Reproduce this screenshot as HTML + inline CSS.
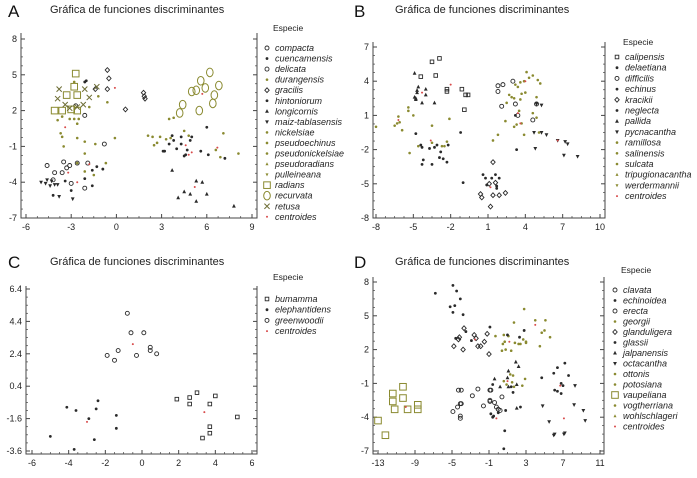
<!DOCTYPE html>
<html><head><meta charset="utf-8"><style>
html,body{margin:0;padding:0;background:#fff;}
svg{display:block;font-family:"Liberation Sans",Arial,sans-serif;}
</style></head><body>
<svg id="chart" width="697" height="478" viewBox="0 0 697 478" xmlns="http://www.w3.org/2000/svg"></svg>
<script>
// ---------- Panel A data ----------
const A_radians=[[-2.7,5.1],[-2.8,4],[-3.3,3.3],[-2.6,3.3],[-4.1,2],[-3.6,2],[-2.6,2],[-3,2.1]];
const A_retusa=[[-3.8,3.8],[-3.9,3],[-3.4,2.5],[-2.1,3.8],[-1.3,4],[-2.2,2.5],[-2.6,2.3],[-1.8,3.1],[-3.1,2.2]];
const A_recurvata=[[4.4,2.5],[4.2,1.8],[5,3.6],[5.3,3.7],[5.6,4.5],[6.2,5.2],[5.9,3.9],[6.8,4.1],[6.5,3.3],[6.4,2.6],[5.5,2]];
const A_gracilis=[[-0.6,5.4],[-0.5,4.7],[0.6,2.1],[1.8,3.5],[1.85,3.2],[1.9,3],[-0.6,3.8],[-1.4,3.8]];
const A_compacta=[[-4.6,-2.6],[-3.6,-3.2],[-4.2,-3.8],[-3,-4.1],[-3.3,-2.8],[-3.5,-2.3],[-2.6,-2.4],[-1.9,-2.4],[-2.1,-4.5],[-0.8,-0.8],[-2.1,1.6],[-2.7,2.4],[-4.1,-3.2],[-3.1,-2.6]];
const A_hintoniorum=[[-4.2,-5.1],[-3,-4.7],[-3.4,-3.9],[-1.6,-4.3],[-1.3,-2.7],[-0.9,-2.9],[-1.6,-3],[-2.1,-3.7],[-2,4.5],[-2.1,4.4],[3.1,-1.4],[3.2,-1.4],[3.7,-0.1],[4,-1.2],[3.5,-0.8],[4.3,-0.8],[4.6,-1.7],[4.7,-1.3],[4.9,-0.5],[5,-0.2],[5.6,-1.4],[6,0.6],[6.1,-1.7],[7.2,-2],[4.3,-0.2],[4.5,-1.8],[3.8,-0.5]];
const A_longicornis=[[3.7,-3],[5.3,-3.9],[5.7,-4],[4.5,-4.8],[4.9,-5],[4.1,-5.3],[5.3,-5.6],[6,-5],[7.8,-6]];
const A_maiz=[[-5,-4],[-4.7,-4.1],[-4.4,-4.3],[-4.1,-4.2],[-4.3,-3.9],[-3.9,-4.2],[-3.8,-5.2],[-2.9,-5.4],[-4.6,-3.8]];
const A_olive=[[-3.7,0.1],[-3.6,-0.2],[-3.5,-1],[-3.1,1.3],[-2.8,1.3],[-2.6,0.9],[-2.5,1.3],[-2.6,-0.3],[-2.6,-2.4],[-2.1,-0.6],[-2.1,-1.6],[-2.1,-3.1],[-1.4,-0.8],[-1.5,-3.4],[-0.7,-2.4],[-0.6,2.7],[-0.1,-0.3],[-2.8,4.4],[-1.8,2.3],[-1.2,3.2],[2.1,-0.1],[2.4,-0.2],[2.9,-0.2],[2.7,-0.7],[3.3,-0.4],[3.6,-0.3],[2.5,-0.9],[3.5,1.3],[3.8,1.4],[4.5,0.3],[4.8,-0.1],[6.6,-1.3],[6.9,-1.9],[7.1,0.1],[8.1,-1.6],[-3.9,1.2],[-3.6,1.5]];
const A_centroides=[[-0.1,3.9],[-3.4,0.6],[-3.2,-3.2],[-1.8,-2.5],[-2.6,-4],[5.7,3.4],[5,-1.5],[4.6,-0.9],[5.2,-4.4],[6.7,-1.1],[4.8,-1.7]];
const A_xticks=[-6,-3,0,3,6,9];
const A_yticks=[8,5,2,-1,-4,-7];
const A_legend=["compacta","cuencamensis","delicata","durangensis","gracilis","hintoniorum","longicornis","maiz-tablasensis","nickelsiae","pseudoechinus","pseudonickelsiae","pseudoradians","pulleineana","radians","recurvata","retusa","centroides"];
const A_legendMarks=["circ","dot","circ","odot","diam","dot","tri","tdown","odot","odot","odot","otri","otdown","bigsq","bigcirc","x","cent"];

// ---------- Panel B data ----------
const B_calipensis=[[-3.5,5.7],[-2.9,6],[-4.4,4.4],[-3.2,4.5],[-2.3,3.3],[-2.3,3.1],[-1.1,3.3],[-0.8,2.8],[-0.6,2.8],[-0.9,1.5]];
const B_difficilis=[[1.8,3.6],[2.2,3.7],[1.8,3.1],[3,4],[2.1,1.8],[3.2,2],[4.6,0.6],[3.4,1],[4.9,2]];
const B_kracikii=[[1.4,-3.1],[1.6,-4.9],[1.1,-5],[1.4,-6],[0.4,-5.9],[0.5,-6.2],[1.9,-6],[2.4,-5.8],[1.2,-7]];
const B_pallida=[[-4.9,4.7],[-4.7,3.2],[-4.6,3.5],[-4.7,3],[-4,3.3],[-4,2.8],[-3.3,2.1],[-4.3,2.1],[-4.9,2.6],[-4.8,2.5],[-4.8,2.4]];
const B_neglecta=[[-4.8,-0.6],[-4.4,-1.6],[-4.3,-1.8],[-4.2,-2.9],[-4.3,-3.3],[-3.7,-1.9],[-3.3,-1.8],[-3.1,-1.6],[-2.9,-2.7],[-2.8,-2.2],[-2.6,-2.8],[-2.3,-3.1],[-2.2,-1.6],[-3.5,-3.3],[-1.2,-0.5],[-1.0,-4.9],[0.6,-4.2],[0.8,-4.5],[0.9,-5.1],[1.3,-4.5],[1.6,-4.2],[1.7,-5.2],[1.9,-4.5],[3.3,-2],[3.2,1],[1.7,-5.4]];
const B_pycnacantha=[[4.9,2],[5.3,1.9],[4.7,-0.5],[5.3,-0.5],[5.7,-0.7],[4.8,-1.9],[6.6,-1.2],[7.2,-1.3],[7.4,-1.5],[7.1,-2.5],[8.2,-2.6]];
const B_olive=[[-8,0],[-6.5,0.1],[-6.3,0.3],[-6.2,0.9],[-6.1,0.4],[-5.9,-0.3],[-5.4,1.4],[-5.4,1.7],[-5,1],[-5.3,-2.3],[-4.6,-1.7],[-3.5,0.1],[-3.5,-1.4],[-2.7,-1.7],[-2.5,-1.7],[-2.3,-1.3],[-2.1,0.7],[2.4,0.5],[2.9,2.6],[3.1,2.5],[3.4,3.5],[3.2,3.7],[3.6,3.9],[3.9,4],[4.1,4.8],[4.3,4.3],[4.6,4.5],[5,4.1],[5.2,3.8],[3.7,2.9],[3.6,2.4],[4,3],[4.9,2.6],[3.1,0],[3.3,0.2],[3.7,0.3],[3.9,-0.7],[4.6,1.2],[5.1,-0.5],[1.4,-1.2],[1.8,-0.7],[3.5,1.4],[2.7,2.8],[2.5,2.1],[4.9,0.8]];
const B_centroides=[[-3.6,-1.2],[-2,3.7],[-4.3,3],[-6.2,0.6],[1.2,-5.3],[3.6,0.3],[4,4],[3.4,1.2],[6.6,-1.2]];
const B_xticks=[-8,-5,-2,1,4,7,10];
const B_yticks=[7,4,1,-2,-5,-8];
const B_legend=["calipensis","delaetiana","difficilis","echinus","kracikii","neglecta","pallida","pycnacantha","ramillosa","salinensis","sulcata","tripugionacantha","werdermannii","centroides"];
const B_legendMarks=["sq","dot","circ","dot","diam","dot","tri","tdown","odot","odot","odot","otri","otdown","cent"];

// ---------- Panel C data ----------
const C_bumamma=[[1.9,-0.4],[2.6,-0.3],[2.6,-0.7],[3,0],[3.7,-0.7],[4,-0.2],[3.7,-2.1],[3.7,-2.5],[3.3,-2.8],[5.2,-1.5]];
const C_elephantidens=[[-4.1,-0.9],[-3.6,-1.1],[-2.4,-0.5],[-2.5,-1],[-2.9,-1.6],[-1.4,-1.4],[-1.4,-2.2],[-2.6,-2.9],[-5,-2.7],[-3.7,-3.5]];
const C_greenwoodii=[[-0.8,4.9],[-0.6,3.7],[0.1,3.7],[-1.3,2.6],[-1.9,2.3],[-1.5,2],[-0.3,2.3],[0.45,2.8],[0.45,2.6],[0.8,2.4]];
const C_centroides=[[-0.5,3.0],[-3,-1.8],[3.4,-1.2]];
const C_xticks=[-6,-4,-2,0,2,4,6];
const C_yticks=[6.4,4.4,2.4,0.4,-1.6,-3.6];
const C_legend=["bumamma","elephantidens","greenwoodii","centroides"];
const C_legendMarks=["sq","dot","circ","cent"];

// ---------- Panel D data ----------
const D_vaupeliana=[[-13,-4.3],[-12.2,-5.6],[-11.4,-1.9],[-11.4,-2.6],[-11.2,-3.3],[-10.3,-1.3],[-10.3,-2.3],[-9.8,-3.3],[-8.7,-2.9],[-8.7,-3.3]];
const D_glanduligera=[[-4.8,2.3],[-3.8,2.0],[-4.2,3.1],[-4.3,2.9],[-3.7,3.9],[-2.6,3.3],[-2.4,3.0],[-2.2,2.3],[-1.9,2.3],[-1.2,3.4],[-1.0,1.6],[-1.5,2.7]];
const D_circles=[[-4.3,-1.6],[-4.0,-1.6],[-2.2,-1.5],[-2.8,-2.1],[-4.1,-2.8],[-4.0,-2.8],[-4.4,-3.1],[-4.9,-3.5],[-4.1,-3.9],[-4.1,-4.1],[-1.6,-3],[-0.9,-2.5],[-0.9,-1.6],[-0.8,-1.6],[-0.4,-2.7],[0.2,-3.4],[0.4,-2.2],[-0.9,-2.6],[-0.2,-3.1],[0,-3.3]];
const D_dots=[[-6.8,7],[-5.2,5.8],[-4.9,7.7],[-4.5,7.2],[-4.7,5.9],[-4.9,5.3],[-4.1,6.5],[-3.8,5.1],[-4.6,3.0],[-3.5,3.6],[-2.9,2.8],[-0.9,4],[-0.8,-3.7],[-0.6,-4],[-0.5,-3.9],[0.0,-3.6],[0.8,-3.4],[0.7,-5.2],[0.6,-6.8],[1.4,-1.3],[1.6,-1.8],[2.4,-3.1],[1.0,3.3],[2.3,3.1],[2.8,3.7],[4.7,-0.5],[6.0,-0.1],[6.4,0.4],[7.2,0.8],[7.6,-0.3],[6.4,-1.7],[6.8,-1],[7.0,-1.2],[6.8,-1.9],[6.1,-1.6],[-0.6,-1.1]];
const D_jalpanensis=[[1.1,0.1],[-0.4,-0.6],[1.0,-0.5],[1.9,0.9],[2.2,0.5],[2.0,-1.1],[1.1,-1.3],[0.2,-1.3],[2.0,-3.2]];
const D_octacantha=[[4.8,-3.0],[5.5,-4.4],[6.0,-5.6],[6.1,-5.5],[7.1,-5.5],[7.2,-5.4],[8.3,-1.2],[8.2,-2.9],[9.2,-3.4],[9.4,-4.3]];
const D_olive=[[0.6,3.3],[1.1,3.2],[0.7,2.7],[0.5,2.5],[0.4,1.9],[0.8,2],[1.4,1.9],[1.8,2.6],[2.2,2.5],[2.4,2.5],[2.7,2.9],[3.0,2.7],[3.0,2.6],[1.7,4.4],[2.8,5.6],[4.0,4.6],[5.1,4.6],[4.7,3.5],[5.0,3.7],[5.6,3.1],[4.5,2.3],[0.6,-0.8],[0.9,-1.1],[1.5,-0.9],[1.7,-1.3],[2.6,-1.2],[1.6,-0.3],[2.9,-0.6],[1.3,-0.2],[-0.3,3.2]];
const D_centroides=[[-10,-3.1],[-2.5,2.9],[1.2,2.7],[4,4.2],[1,-0.8],[-0.2,-4.1],[6.7,-1.2],[7.1,-4.1]];
const D_xticks=[-13,-9,-5,-1,3,7,11];
const D_yticks=[8,5,2,-1,-4,-7];
const D_legend=["clavata","echinoidea","erecta","georgii","glanduligera","glassii","jalpanensis","octacantha","ottonis","potosiana","vaupeliana","vogtherriana","wohlschlageri","centroides"];
const D_legendMarks=["circ","dot","circ","odot","diam","dot","tri","tdown","odot","odot","bigsq","odot","otri","cent"];

const NS="http://www.w3.org/2000/svg";
const svg=document.getElementById('chart');
const BLK="#2a2a2a",OLV="#8a8a30",RED="#d84a4a";
function mk(tag,attrs,parent){const e=document.createElementNS(NS,tag);for(const k in attrs)e.setAttribute(k,attrs[k]);(parent||svg).appendChild(e);return e;}

function marker(g,type,x,y){
  let e;
  if(type==="dot"){e=mk('circle',{cx:x,cy:y,r:1.4,fill:BLK},g);}
  else if(type==="odot"){e=mk('circle',{cx:x,cy:y,r:1.3,fill:OLV},g);}
  else if(type==="circ"){e=mk('circle',{cx:x,cy:y,r:2,fill:"none",stroke:BLK,"stroke-width":0.9},g);}
  else if(type==="sq"){e=mk('rect',{x:x-1.8,y:y-1.8,width:3.6,height:3.6,fill:"none",stroke:BLK,"stroke-width":0.9},g);}
  else if(type==="diam"){e=mk('path',{d:`M${x} ${y-2.4}L${x+2.2} ${y}L${x} ${y+2.4}L${x-2.2} ${y}Z`,fill:"none",stroke:BLK,"stroke-width":0.9},g);}
  else if(type==="tri"){e=mk('path',{d:`M${x} ${y-2.2}L${x+1.9} ${y+1.5}L${x-1.9} ${y+1.5}Z`,fill:BLK},g);}
  else if(type==="otri"){e=mk('path',{d:`M${x} ${y-1.8}L${x+1.5} ${y+1.2}L${x-1.5} ${y+1.2}Z`,fill:OLV},g);}
  else if(type==="tdown"){e=mk('path',{d:`M${x} ${y+2.2}L${x+1.9} ${y-1.5}L${x-1.9} ${y-1.5}Z`,fill:BLK},g);}
  else if(type==="otdown"){e=mk('path',{d:`M${x} ${y+1.8}L${x+1.5} ${y-1.2}L${x-1.5} ${y-1.2}Z`,fill:OLV},g);}
  else if(type==="bigsq"){e=mk('rect',{x:x-3.3,y:y-3.3,width:6.6,height:6.6,fill:"none",stroke:OLV,"stroke-width":1},g);}
  else if(type==="bigcirc"){e=mk('ellipse',{cx:x,cy:y,rx:3.3,ry:4.3,fill:"none",stroke:OLV,"stroke-width":1},g);}
  else if(type==="x"){e=mk('path',{d:`M${x-2.6} ${y-2.6}L${x+2.6} ${y+2.6}M${x+2.6} ${y-2.6}L${x-2.6} ${y+2.6}`,stroke:"#6d6d35","stroke-width":1},g);}
  else {e=mk('circle',{cx:x,cy:y,r:1,fill:RED},g);}
  return e;
}

function panel(cfg){
  const g=mk('g',{});
  
  
  const sx=v=>cfg.px0+(v-cfg.x0)/(cfg.x1-cfg.x0)*(cfg.px1-cfg.px0);
  const sy=v=>cfg.py0+(v-cfg.y0)/(cfg.y1-cfg.y0)*(cfg.py1-cfg.py0);
  const L=cfg.L,R=cfg.R,T=cfg.T,B=cfg.B;
  // panel letter
  const lt=mk('text',{x:cfg.letterX,y:cfg.letterY,"font-size":17,fill:"#111"},g);lt.textContent=cfg.letter;
  
  const tt=mk('text',{x:cfg.titleX,y:cfg.titleY,"font-size":11,fill:"#222"},g);tt.textContent="Gráfica de funciones discriminantes";
  
  // axes
  const ax=mk('path',{d:`M${L} ${T}V${B}H${R}V${T}`,fill:"none",stroke:"#444","stroke-width":1},g);
  
  // x ticks
  const xs=cfg.xticks, dx=xs[1]-xs[0];
  for(let i=0;i<xs.length;i++){
    const X=sx(xs[i]);
    mk('line',{x1:X,y1:B,x2:X,y2:B-4,stroke:"#444","stroke-width":1},g);
    const t=mk('text',{x:X,y:B+12,"font-size":9,"text-anchor":"middle",fill:"#222"},g);t.textContent=xs[i];
    
    if(i<xs.length-1)for(let k=1;k<4;k++){const Xm=sx(xs[i]+dx*k/4);mk('line',{x1:Xm,y1:B,x2:Xm,y2:B-2,stroke:"#444","stroke-width":0.7},g);}
  }
  const ys=cfg.yticks, dy=ys[1]-ys[0];
  for(let i=0;i<ys.length;i++){
    const Y=sy(ys[i]);
    mk('line',{x1:L,y1:Y,x2:L+4,y2:Y,stroke:"#444","stroke-width":1},g);
    mk('line',{x1:R,y1:Y,x2:R-4,y2:Y,stroke:"#444","stroke-width":1},g);
    const t=mk('text',{x:L-4,y:Y+3,"font-size":9,"text-anchor":"end",fill:"#222"},g);t.textContent=ys[i];
    
    if(i<ys.length-1)for(let k=1;k<4;k++){const Ym=sy(ys[i]+dy*k/4);mk('line',{x1:L,y1:Ym,x2:L+2,y2:Ym,stroke:"#444","stroke-width":0.7},g);mk('line',{x1:R,y1:Ym,x2:R-2,y2:Ym,stroke:"#444","stroke-width":0.7},g);}
  }
  // series
  cfg.series.forEach(s=>{
    s.pts.forEach(p=>{
      const e=marker(g,s.mark,sx(p[0]),sy(p[1]));
      
      
    });
  });
  // legend
  const lh=mk('text',{x:cfg.legX+6,y:cfg.legHY,"font-size":8.5,fill:"#222"},g);lh.textContent="Especie";
  
  cfg.legend.forEach((nm,i)=>{
    const Y=cfg.legY0+i*cfg.legDY;
    const m=marker(g,cfg.legMarks[i],cfg.legX,Y);
    
    const t=mk('text',{x:cfg.legX+8,y:Y+3,"font-size":9,"font-style":"italic",fill:"#222"},g);t.textContent=nm;
    
  });
}

panel({name:"panel-a",letter:"A",letterX:8,letterY:17,titleX:50,titleY:13,
  x0:-6,x1:9,px0:26,px1:252,y0:8,y1:-7,py0:39,py1:218,L:21,R:257,T:33,B:218,
  xticks:A_xticks,yticks:A_yticks,legX:267,legHY:31,legY0:48,legDY:10.55,legend:A_legend,legMarks:A_legendMarks,
  series:[{id:"olive",mark:"odot",pts:A_olive},{id:"compacta",mark:"circ",pts:A_compacta},{id:"gracilis",mark:"diam",pts:A_gracilis},
   {id:"hintoniorum",mark:"dot",pts:A_hintoniorum},{id:"longicornis",mark:"tri",pts:A_longicornis},{id:"maiz-tablasensis",mark:"tdown",pts:A_maiz},
   {id:"radians",mark:"bigsq",pts:A_radians},{id:"recurvata",mark:"bigcirc",pts:A_recurvata},{id:"retusa",mark:"x",pts:A_retusa},{id:"centroid",mark:"cent",pts:A_centroides}]});

panel({name:"panel-b",letter:"B",letterX:354,letterY:17,titleX:395,titleY:13,
  x0:-8,x1:10,px0:376,px1:600,y0:7,y1:-8,py0:47,py1:218,L:373,R:605,T:42,B:218,
  xticks:B_xticks,yticks:B_yticks,legX:617,legHY:45,legY0:57,legDY:10.7,legend:B_legend,legMarks:B_legendMarks,
  series:[{id:"olive",mark:"odot",pts:B_olive},{id:"calipensis",mark:"sq",pts:B_calipensis},{id:"difficilis",mark:"circ",pts:B_difficilis},
   {id:"kracikii",mark:"diam",pts:B_kracikii},{id:"pallida",mark:"tri",pts:B_pallida},{id:"neglecta",mark:"dot",pts:B_neglecta},
   {id:"pycnacantha",mark:"tdown",pts:B_pycnacantha},{id:"centroid",mark:"cent",pts:B_centroides}]});

panel({name:"panel-c",letter:"C",letterX:8,letterY:268,titleX:50,titleY:265,
  x0:-6,x1:6,px0:32,px1:252,y0:6.4,y1:-3.6,py0:289,py1:451,L:26,R:257,T:286,B:454,
  xticks:C_xticks,yticks:C_yticks,legX:267,legHY:280,legY0:299,legDY:10.7,legend:C_legend,legMarks:C_legendMarks,
  series:[{id:"bumamma",mark:"sq",pts:C_bumamma},{id:"elephantidens",mark:"dot",pts:C_elephantidens},{id:"greenwoodii",mark:"circ",pts:C_greenwoodii},{id:"centroid",mark:"cent",pts:C_centroides}]});

panel({name:"panel-d",letter:"D",letterX:354,letterY:268,titleX:395,titleY:265,
  x0:-13,x1:11,px0:378,px1:600,y0:8,y1:-7,py0:282,py1:451,L:373,R:604,T:277,B:454,
  xticks:D_xticks,yticks:D_yticks,legX:615,legHY:273,legY0:290,legDY:10.5,legend:D_legend,legMarks:D_legendMarks,
  series:[{id:"olive",mark:"odot",pts:D_olive},{id:"vaupeliana",mark:"bigsq",pts:D_vaupeliana},{id:"glanduligera",mark:"diam",pts:D_glanduligera},
   {id:"clavata-erecta",mark:"circ",pts:D_circles},{id:"echinoidea",mark:"dot",pts:D_dots},{id:"jalpanensis",mark:"tri",pts:D_jalpanensis},
   {id:"octacantha",mark:"tdown",pts:D_octacantha},{id:"centroid",mark:"cent",pts:D_centroides}]});
</script>
</body></html>
